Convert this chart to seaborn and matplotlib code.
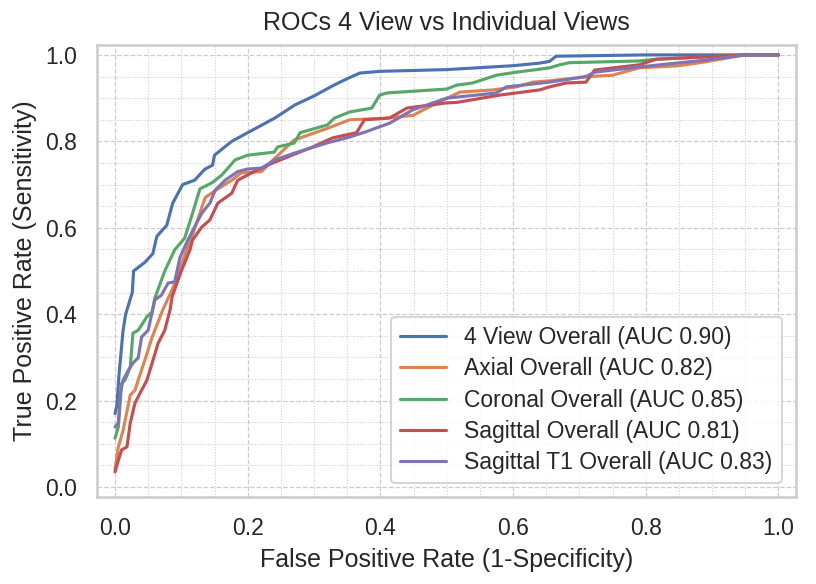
import matplotlib
matplotlib.use("Agg")
import matplotlib.pyplot as plt
import numpy as np
import pandas as pd
import seaborn as sns
from matplotlib.ticker import MultipleLocator

# ROC points (fpr, tpr)
fpr_4view = [0.0, 0.003, 0.006, 0.012, 0.016, 0.022, 0.026, 0.028, 0.045, 0.057, 0.063, 0.078,
             0.087, 0.102, 0.12, 0.135, 0.147, 0.15, 0.176, 0.2, 0.241, 0.271, 0.3, 0.33, 0.35, 0.369,
             0.4, 0.5, 0.6, 0.64, 0.655, 0.665, 0.8, 1.0]
tpr_4view = [0.17, 0.19, 0.26, 0.36, 0.40, 0.43, 0.45, 0.50, 0.52, 0.54, 0.58, 0.606,
             0.657, 0.70, 0.71, 0.735, 0.745, 0.768, 0.80, 0.82, 0.854, 0.884, 0.905, 0.93, 0.945, 0.958,
             0.962, 0.966, 0.975, 0.981, 0.985, 0.997, 1.0, 1.0]

fpr_axial = [0.0, 0.005, 0.012, 0.023, 0.03, 0.045, 0.056, 0.072, 0.087, 0.09, 0.108, 0.116,
             0.131, 0.136, 0.155, 0.176, 0.19, 0.221, 0.241, 0.27, 0.32, 0.354, 0.404, 0.449,
             0.479, 0.52, 0.57, 0.605, 0.63, 0.655, 0.715, 0.75, 0.79, 0.85, 0.89, 0.95, 1.0]
tpr_axial = [0.04, 0.093, 0.13, 0.213, 0.224, 0.294, 0.347, 0.41, 0.46, 0.472, 0.549, 0.58,
             0.648, 0.67, 0.69, 0.71, 0.727, 0.73, 0.761, 0.803, 0.83, 0.85, 0.853, 0.86,
             0.884, 0.914, 0.919, 0.926, 0.937, 0.94, 0.95, 0.953, 0.97, 0.975, 0.984, 1.0, 1.0]

fpr_coronal = [0.0, 0.005, 0.01, 0.015, 0.023, 0.027, 0.035, 0.048, 0.056, 0.06, 0.075, 0.09,
               0.105, 0.117, 0.128, 0.146, 0.161, 0.181, 0.2, 0.24, 0.245, 0.27, 0.279, 0.32,
               0.331, 0.354, 0.387, 0.399, 0.41, 0.5, 0.515, 0.539, 0.575, 0.605, 0.655, 0.67,
               0.685, 0.79, 0.816, 0.95, 1.0]
tpr_coronal = [0.113, 0.139, 0.24, 0.247, 0.278, 0.356, 0.363, 0.394, 0.405, 0.437, 0.50, 0.549,
               0.576, 0.634, 0.69, 0.704, 0.722, 0.757, 0.768, 0.775, 0.787, 0.796, 0.82, 0.838,
               0.854, 0.868, 0.877, 0.907, 0.912, 0.921, 0.93, 0.935, 0.953, 0.96, 0.97, 0.977,
               0.982, 0.986, 0.99, 1.0, 1.0]

fpr_sagittal = [0.0, 0.005, 0.01, 0.018, 0.023, 0.03, 0.04, 0.048, 0.056, 0.065, 0.075, 0.083,
                0.086, 0.1, 0.113, 0.117, 0.131, 0.143, 0.155, 0.176, 0.185, 0.206, 0.23, 0.267,
                0.298, 0.328, 0.364, 0.376, 0.414, 0.44, 0.5, 0.515, 0.58, 0.64, 0.655, 0.68,
                0.71, 0.723, 0.79, 0.816, 0.95, 1.0]
tpr_sagittal = [0.035, 0.062, 0.086, 0.093, 0.148, 0.194, 0.224, 0.247, 0.287, 0.333, 0.363, 0.41,
                0.44, 0.50, 0.549, 0.572, 0.602, 0.618, 0.657, 0.68, 0.71, 0.727, 0.745, 0.768,
                0.787, 0.808, 0.82, 0.85, 0.854, 0.877, 0.889, 0.89, 0.907, 0.919, 0.926, 0.935,
                0.937, 0.965, 0.977, 0.99, 1.0, 1.0]

fpr_sagt1 = [0.0, 0.005, 0.008, 0.012, 0.02, 0.027, 0.035, 0.04, 0.05, 0.06, 0.07, 0.08, 0.09,
             0.098, 0.11, 0.12, 0.131, 0.143, 0.151, 0.166, 0.185, 0.2, 0.221, 0.241, 0.271,
             0.319, 0.354, 0.378, 0.414, 0.449, 0.47, 0.5, 0.545, 0.575, 0.59, 0.655, 0.71,
             0.723, 0.79, 0.89, 0.95, 1.0]
tpr_sagt1 = [0.139, 0.148, 0.218, 0.247, 0.27, 0.287, 0.299, 0.347, 0.363, 0.433, 0.444, 0.472,
             0.475, 0.532, 0.572, 0.602, 0.634, 0.657, 0.687, 0.71, 0.73, 0.736, 0.738, 0.757,
             0.773, 0.796, 0.81, 0.822, 0.842, 0.873, 0.884, 0.9, 0.907, 0.912, 0.926, 0.937,
             0.95, 0.96, 0.972, 0.988, 1.0, 1.0]

labels = ["4 View Overall (AUC 0.90)", "Axial Overall (AUC 0.82)", "Coronal Overall (AUC 0.85)",
          "Sagittal Overall (AUC 0.81)", "Sagittal T1 Overall (AUC 0.83)"]
curves = [(fpr_4view, tpr_4view), (fpr_axial, tpr_axial), (fpr_coronal, tpr_coronal),
          (fpr_sagittal, tpr_sagittal), (fpr_sagt1, tpr_sagt1)]

sns.set_theme(style="whitegrid")
plt.rcParams['font.family'] = ['Liberation Sans', 'DejaVu Sans']

fig, ax = plt.subplots(figsize=(816 / 150, 584 / 150), dpi=150)
fig.subplots_adjust(left=0.119, right=0.975, top=0.923, bottom=0.149)

for (f, t), lab in zip(curves, labels):
    df = pd.DataFrame({"fpr": f, "tpr": t})
    sns.lineplot(data=df, x="fpr", y="tpr", label=lab, ax=ax, sort=False, linewidth=1.5)

ax.set_xlim(-0.027, 1.026)
ax.set_ylim(-0.023, 1.023)
ax.xaxis.set_minor_locator(MultipleLocator(0.05))
ax.yaxis.set_minor_locator(MultipleLocator(0.05))
ax.grid(which="major", linestyle="--", linewidth=0.6, color="#cccccc")
ax.grid(which="minor", linestyle=":", linewidth=0.5, color="#cccccc")
ax.tick_params(which="minor", length=0)
for s in ax.spines.values():
    s.set_edgecolor("#cccccc")
    s.set_linewidth(1.25)

ax.set_title("ROCs 4 View vs Individual Views", pad=7)
ax.set_xlabel("False Positive Rate (1-Specificity)")
ax.set_ylabel("True Positive Rate (Sensitivity)")
ax.legend(loc="lower right", labelspacing=0.36, borderaxespad=0.6)

fig.savefig("out.png", dpi=150)
